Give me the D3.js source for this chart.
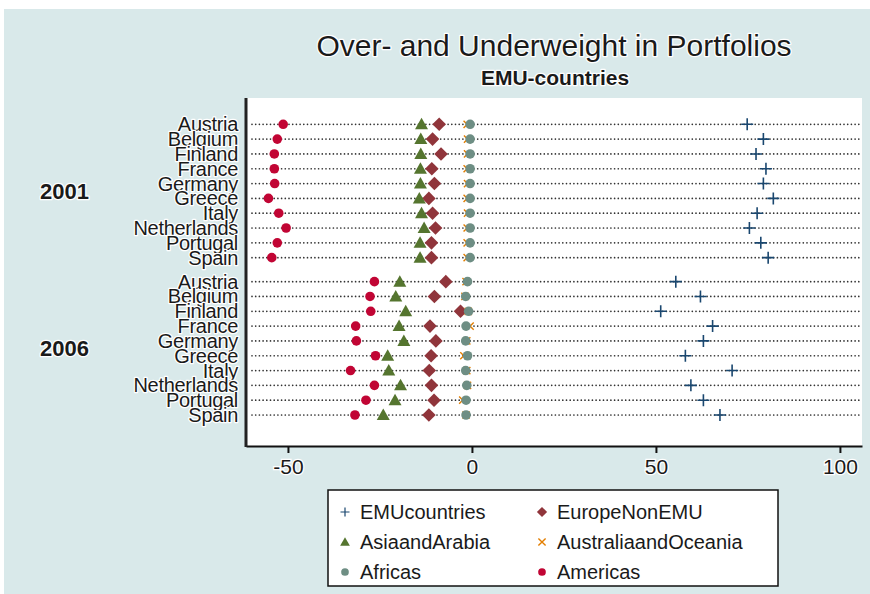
<!DOCTYPE html>
<html><head><meta charset="utf-8">
<script src="https://cdn.jsdelivr.net/npm/d3@7"></script>
<style>body{margin:0;background:#fff}svg{display:block}text{font-family:"Liberation Sans",Arial,sans-serif}</style>
</head><body><svg id="c" width="870" height="594"></svg>
<script>
const years = ["2001", "2006"];
const countries = ["Austria","Belgium","Finland","France","Germany","Greece","Italy","Netherlands","Portugal","Spain"];
const xTicks = [-50, 0, 50, 100];
const seriesNames = ["EMUcountries","EuropeNonEMU","AsiaandArabia","AustraliaandOceania","Africas","Americas"];
// values: 10 for 2001 followed by 10 for 2006
const EMUcountries = [74.8,79.2,77.2,79.9,79.2,81.9,77.5,75.4,78.5,80.5, 55.4,62.1,51.3,65.4,62.9,58.0,70.7,59.5,62.9,67.4];
const EuropeNonEMU = [-8.9,-10.7,-8.4,-10.9,-10.2,-11.7,-10.7,-9.9,-11.0,-11.0, -7.1,-10.2,-3.1,-11.4,-9.8,-11.1,-11.6,-11.0,-10.3,-11.7];
const AsiaandArabia = [-13.7,-13.9,-13.9,-14.0,-14.0,-14.3,-13.7,-13.0,-14.1,-14.1, -19.6,-20.7,-18.0,-19.8,-18.5,-22.9,-22.6,-19.4,-20.9,-24.1];
const AustraliaandOceania = [-1.3,-1.2,-1.2,-1.3,-1.2,-1.3,-1.2,-1.3,-1.3,-1.3, -1.6,-1.9,-1.0,-0.5,-1.4,-2.2,-1.4,-1.2,-2.5,-1.6];
const Africas = [-0.5,-0.5,-0.5,-0.5,-0.5,-0.5,-0.5,-0.5,-0.5,-0.5, -1.2,-1.7,-0.9,-1.6,-1.7,-1.2,-1.7,-1.4,-1.6,-1.6];
const Americas = [-51.3,-52.9,-53.7,-53.7,-53.6,-55.3,-52.5,-50.5,-52.9,-54.4, -26.5,-27.7,-27.5,-31.6,-31.4,-26.2,-33.0,-26.5,-28.8,-31.8];

const seriesData = [EMUcountries, EuropeNonEMU, AsiaandArabia, AustraliaandOceania, Africas, Americas];
const colors = ["#1a476f","#90353b","#55752f","#e37e00","#6e8e84","#c10534"];
const shapes = ["plus","diamond","triangle","x","circle","circle"];

const svg = d3.select("#c");
svg.append("rect").attr("x",4).attr("y",9).attr("width",866).attr("height",585).attr("fill","#d9e9ea");

const L = 246, R = 862, T = 98, B = 446;
svg.append("rect").attr("x",L).attr("y",T).attr("width",R-L).attr("height",B-T).attr("fill","#fff");

const x = d3.scaleLinear().domain([-61.4, 106]).range([L, R]);
const gap = 1.62;
const y = d3.scaleLinear().domain([0, 9 + gap + 9]).range([124.3, 415]);
const slot = (g, i) => g * (9 + gap) + i;

const halo = sel => sel.attr("stroke","#fff").attr("stroke-width",2.5).attr("stroke-linejoin","round").attr("paint-order","stroke");

// title
halo(svg.append("text").attr("x",554).attr("y",56).attr("text-anchor","middle").attr("font-size",30).attr("fill","#1a1a1a").text("Over- and Underweight in Portfolios"));
halo(svg.append("text").attr("x",555).attr("y",85).attr("text-anchor","middle").attr("font-size",21).attr("font-weight","bold").attr("fill","#1a1a1a").text("EMU-countries"));

// rows
const rows = [];
years.forEach((yr, g) => countries.forEach((c, i) => rows.push({yr, g, i, c, idx: g*10+i})));

svg.append("g").selectAll("line").data(rows).join("line")
  .attr("x1", L + 6).attr("x2", R).attr("y1", d => y(slot(d.g,d.i))).attr("y2", d => y(slot(d.g,d.i)))
  .attr("stroke","#333").attr("stroke-width",1.7).attr("stroke-linecap","round").attr("stroke-dasharray","0 3.7");

// country labels
halo(svg.append("g").selectAll("text").data(rows).join("text")
  .attr("x",238).attr("y", d => y(slot(d.g,d.i)) + 7)
  .attr("text-anchor","end").attr("font-size",20).attr("fill","#1a1a1a").attr("letter-spacing","-0.3")
  .text(d => d.c));

// group labels
halo(svg.append("g").selectAll("text").data(years).join("text")
  .attr("x",40).attr("y",(d,g) => (y(slot(g,0)) + y(slot(g,9)))/2 + 8)
  .attr("font-size",22).attr("font-weight","bold").attr("fill","#1a1a1a").text(d => d));

// markers
function marker(sel, shape, color) {
  if (shape === "circle") {
    sel.append("circle").attr("r",4.8).attr("fill",color);
  } else if (shape === "diamond") {
    sel.append("path").attr("d","M0,-6.8L6.8,0L0,6.8L-6.8,0Z").attr("fill",color);
  } else if (shape === "triangle") {
    sel.append("path").attr("d","M0,-6.5L6.5,5L-6.5,5Z").attr("fill",color);
  } else if (shape === "plus") {
    sel.append("path").attr("d","M-6,0H6M0,-6V6").attr("stroke",color).attr("stroke-width",1.6).attr("fill","none");
  } else if (shape === "x") {
    sel.append("path").attr("d","M-3.6,-3.6L3.6,3.6M-3.6,3.6L3.6,-3.6").attr("stroke",color).attr("stroke-width",1.4).attr("fill","none");
  }
}
seriesData.forEach((vals, s) => {
  const g = svg.append("g");
  rows.forEach(r => {
    const m = g.append("g").attr("transform", `translate(${x(vals[r.idx])},${y(slot(r.g,r.i))})`);
    marker(m, shapes[s], colors[s]);
  });
});

// axes
const ax = svg.append("g").attr("transform",`translate(0,${B})`)
  .call(d3.axisBottom(x).tickValues(xTicks).tickSize(7).tickSizeOuter(0).tickPadding(6).tickFormat(d => String(d)));
ax.select(".domain").attr("stroke","#111").attr("stroke-width",2);
ax.selectAll(".tick line").attr("stroke","#111").attr("stroke-width",2);
ax.selectAll(".tick text").attr("font-size",21).attr("fill","#1a1a1a").attr("font-family","Liberation Sans, Arial, sans-serif")
  .attr("stroke","#fff").attr("stroke-width",2.5).attr("paint-order","stroke");
svg.append("line").attr("x1",L).attr("x2",L).attr("y1",T).attr("y2",B+1).attr("stroke","#222").attr("stroke-width",3);

// legend
const lg = svg.append("g");
lg.append("rect").attr("x",328).attr("y",490).attr("width",450).attr("height",96).attr("fill","#fff").attr("stroke","#111").attr("stroke-width",1.5);
const legendSize = {plus:0.75, diamond:0.75, triangle:0.75, x:1, circle:0.8};
seriesNames.forEach((n, s) => {
  const col = s % 2, row = Math.floor(s / 2);
  const mx = col === 0 ? 345 : 542, ty = 512 + row * 30;
  const m = lg.append("g").attr("transform",`translate(${mx},${ty}) scale(${legendSize[shapes[s]]})`);
  marker(m, shapes[s], colors[s]);
  lg.append("text").attr("x", mx + 15).attr("y", ty + 7).attr("font-size",20).attr("fill","#1a1a1a").text(n);
});
</script></body></html>
